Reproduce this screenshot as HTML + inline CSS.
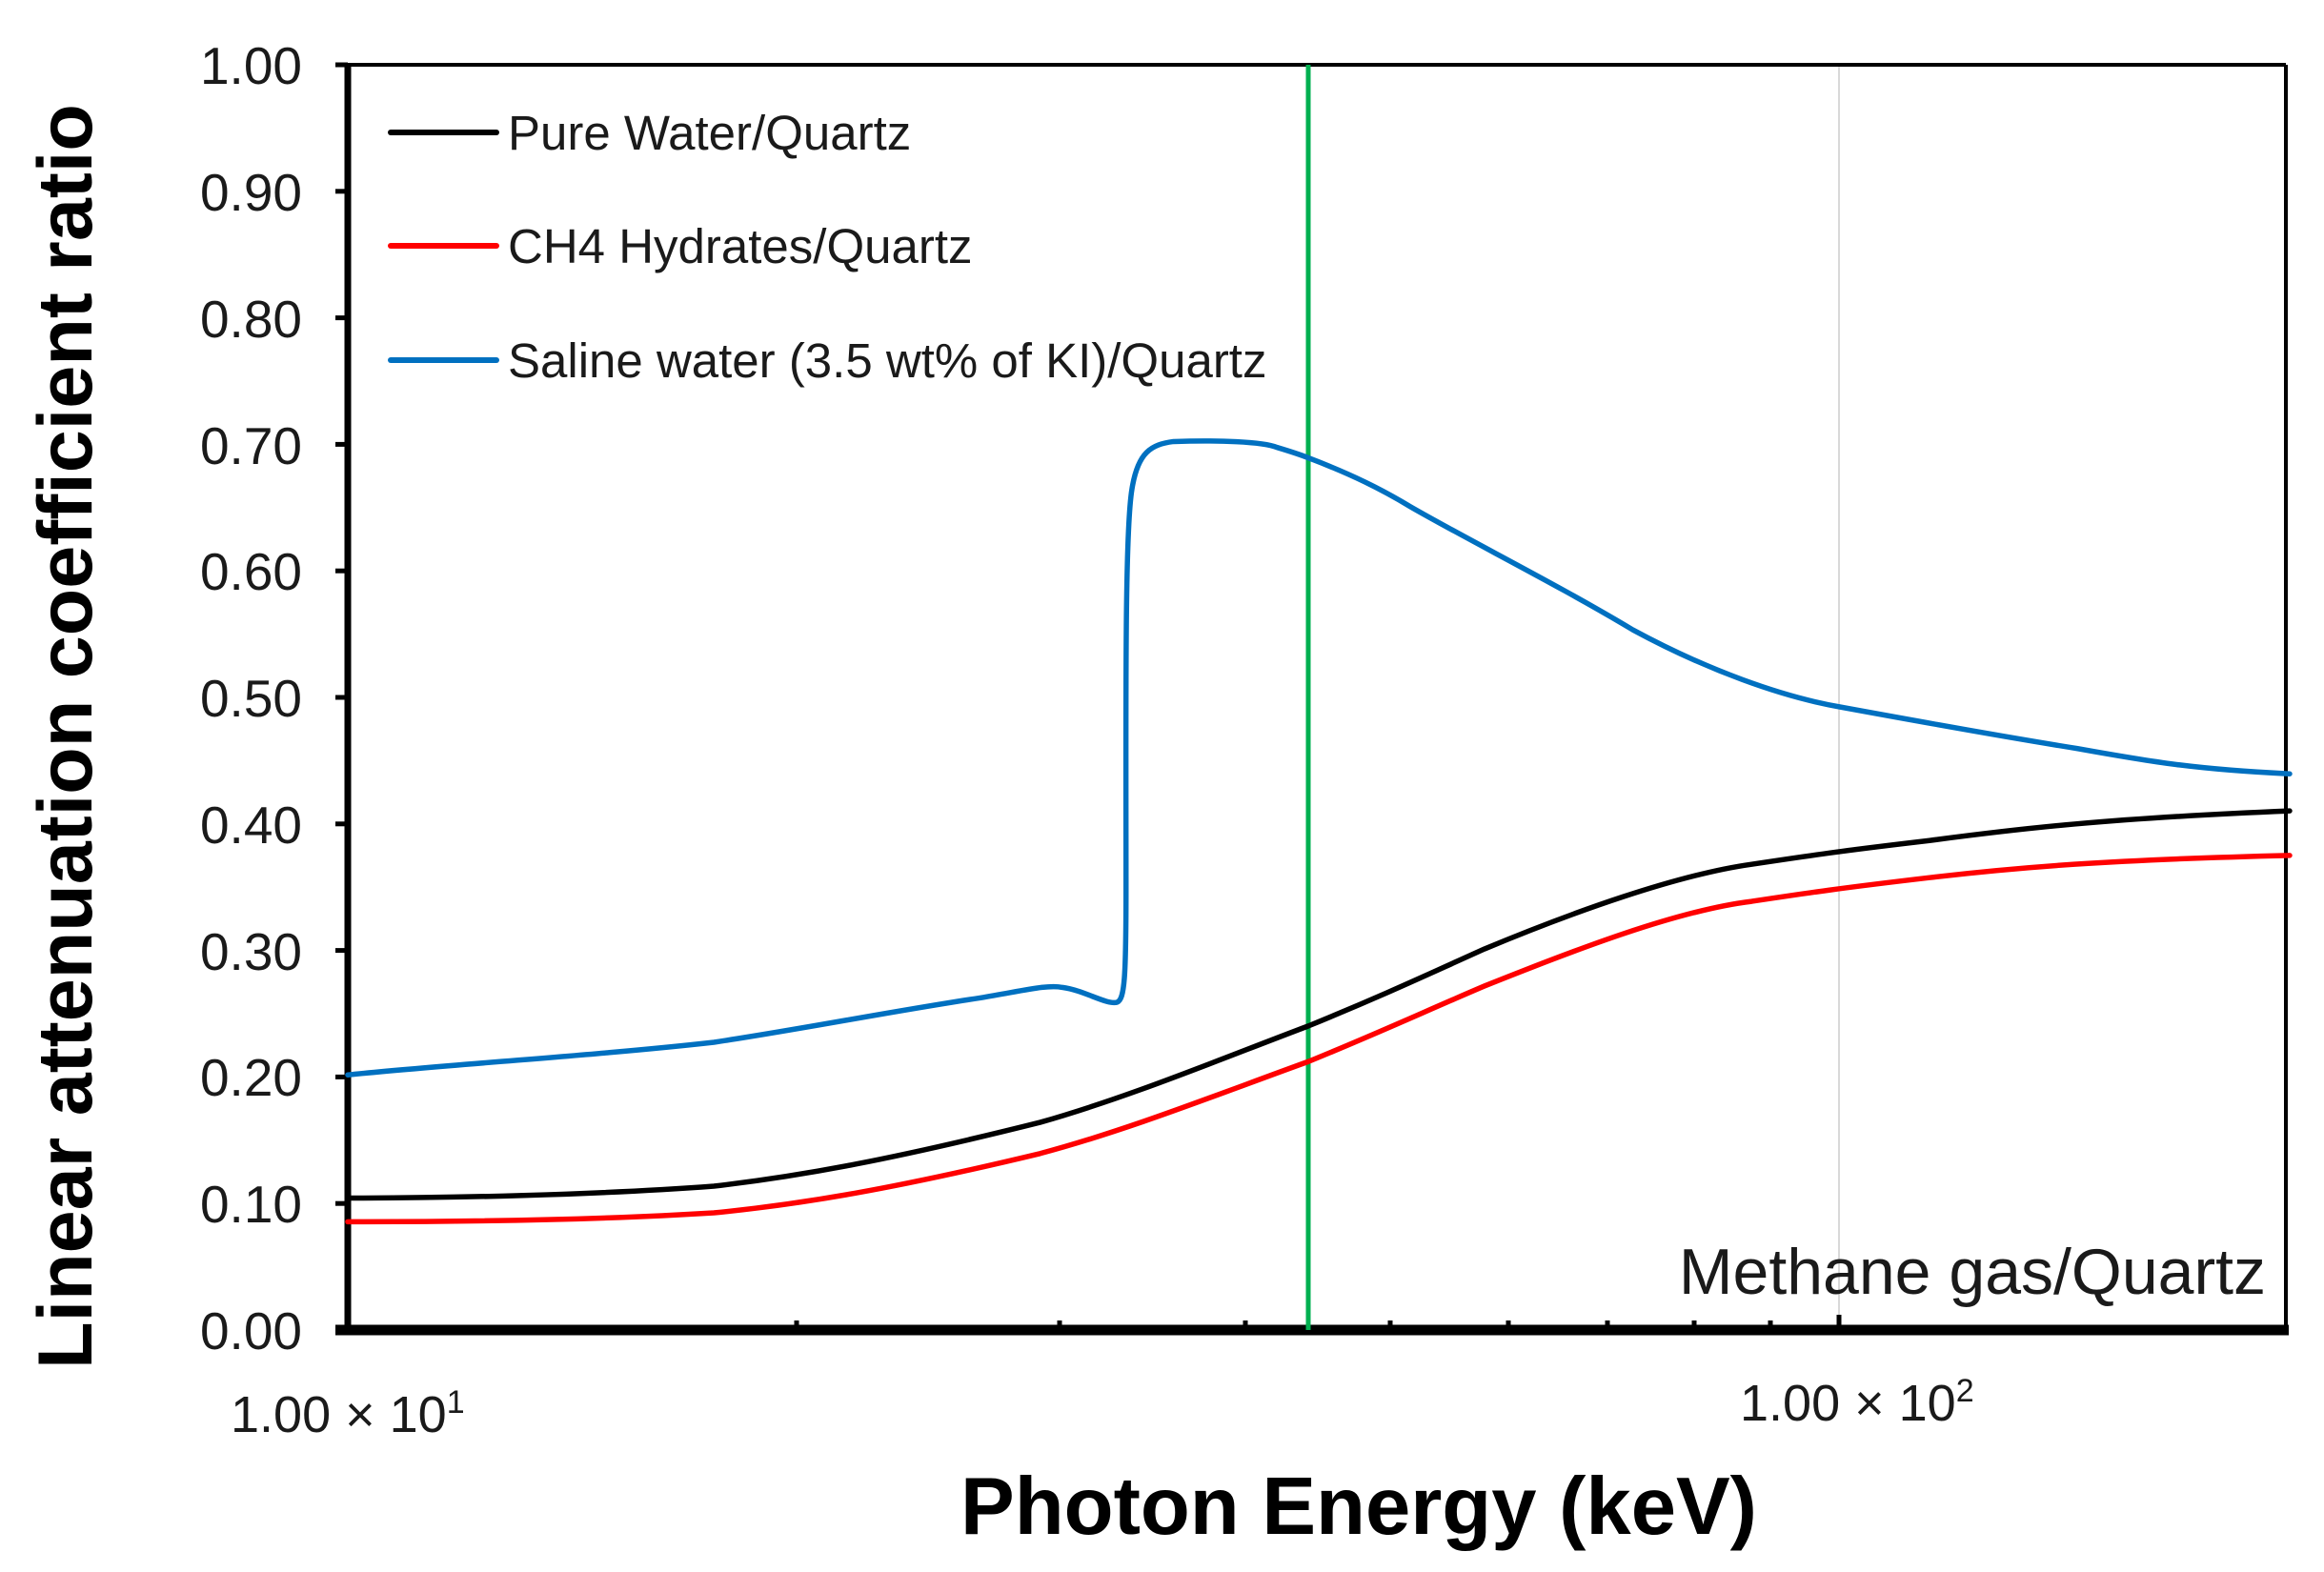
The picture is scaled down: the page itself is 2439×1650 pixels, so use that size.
<!DOCTYPE html>
<html><head><meta charset="utf-8"><style>
html,body{margin:0;padding:0;background:#fff;}
svg{display:block;font-family:"Liberation Sans",Arial,sans-serif;}
</style></head><body>
<svg width="2439" height="1650" viewBox="0 0 2439 1650" xmlns="http://www.w3.org/2000/svg">
<rect width="2439" height="1650" fill="#fff"/>
<line x1="1930" y1="68" x2="1930" y2="1396" stroke="#d9d9d9" stroke-width="2"/>
<line x1="365" y1="68" x2="2399" y2="68" stroke="#000" stroke-width="4"/>
<line x1="2399" y1="68" x2="2399" y2="1396" stroke="#000" stroke-width="4"/>
<line x1="365" y1="66" x2="365" y2="1400" stroke="#000" stroke-width="7"/>
<line x1="352" y1="1396" x2="2402" y2="1396" stroke="#000" stroke-width="11"/>
<g stroke="#000" stroke-width="5">
<line x1="352" y1="68" x2="365" y2="68"/><line x1="352" y1="200.8" x2="365" y2="200.8"/>
<line x1="352" y1="333.6" x2="365" y2="333.6"/><line x1="352" y1="466.4" x2="365" y2="466.4"/>
<line x1="352" y1="599.2" x2="365" y2="599.2"/><line x1="352" y1="732" x2="365" y2="732"/>
<line x1="352" y1="864.8" x2="365" y2="864.8"/><line x1="352" y1="997.6" x2="365" y2="997.6"/>
<line x1="352" y1="1130.4" x2="365" y2="1130.4"/><line x1="352" y1="1263.2" x2="365" y2="1263.2"/>
</g>
<g stroke="#000" stroke-width="5">
<line x1="836" y1="1386" x2="836" y2="1396"/><line x1="1112" y1="1386" x2="1112" y2="1396"/>
<line x1="1307" y1="1386" x2="1307" y2="1396"/><line x1="1459" y1="1386" x2="1459" y2="1396"/>
<line x1="1583" y1="1386" x2="1583" y2="1396"/><line x1="1687" y1="1386" x2="1687" y2="1396"/>
<line x1="1778" y1="1386" x2="1778" y2="1396"/><line x1="1858" y1="1386" x2="1858" y2="1396"/>
<line x1="1930" y1="1380" x2="1930" y2="1396"/>
</g>
<g font-size="55" fill="#1a1a1a" text-anchor="end">
<text x="317" y="88">1.00</text><text x="317" y="221">0.90</text><text x="317" y="354">0.80</text>
<text x="317" y="487">0.70</text><text x="317" y="619">0.60</text><text x="317" y="752">0.50</text>
<text x="317" y="885">0.40</text><text x="317" y="1018">0.30</text><text x="317" y="1150">0.20</text>
<text x="317" y="1283">0.10</text><text x="317" y="1416">0.00</text>
</g>
<text x="242" y="1503" font-size="54" fill="#1a1a1a">1.00 × 10<tspan font-size="34" dy="-20">1</tspan></text>
<text x="1826" y="1491" font-size="54" fill="#1a1a1a">1.00 × 10<tspan font-size="34" dy="-20">2</tspan></text>
<text x="1426" y="1610" font-size="85" font-weight="bold" text-anchor="middle" fill="#000">Photon  Energy (keV)</text>
<text transform="translate(96,773) rotate(-90)" font-size="81" font-weight="bold" text-anchor="middle" fill="#000">Linear  attenuation  coefficient  ratio</text>
<line x1="1373" y1="68" x2="1373" y2="1396" stroke="#00b050" stroke-width="5"/>
<g transform="translate(365,68) scale(1.5557,1.5569) translate(-233,-44)" fill="none" stroke-linejoin="round" stroke-linecap="round">
<path vector-effect="non-scaling-stroke" stroke="#0070c0" stroke-width="5.5" d="M233,725 C300,718 400,712 480,703 C540,694 600,682 660,673 C690,668 705,664 715,666 C730,668 745,678 752,676 C757,674 758,660 758,600 C758,480 757,360 762,330 C766,305 775,300 790,298 C820,297 850,298 860,302 C870,305 876,307 881,309 C910,320 930,330 950,342 C990,365 1050,395 1100,425 C1150,452 1200,470 1240,477 C1300,488 1350,497 1400,505 C1450,514 1480,519 1543,522"/>
<path vector-effect="non-scaling-stroke" stroke="#000" stroke-width="5.5" d="M233,808 C300,808 400,806 480,800 C540,793 600,782 700,757 C760,740 820,715 881,692 C930,672 960,658 1000,640 C1060,615 1130,590 1180,583 C1220,577 1240,574 1300,567 C1360,559 1420,552 1543,547"/>
<path vector-effect="non-scaling-stroke" stroke="#ff0000" stroke-width="5.5" d="M233,824 C300,824 400,823 480,818 C540,812 600,802 700,778 C760,762 820,738 881,716 C930,696 960,682 1000,665 C1060,641 1130,614 1180,608 C1220,602 1240,599 1300,592 C1360,585 1420,580 1543,577"/>
</g>
<g stroke-width="6" stroke-linecap="round">
<line x1="410" y1="139" x2="521" y2="139" stroke="#000"/>
<line x1="410" y1="258" x2="521" y2="258" stroke="#ff0000"/>
<line x1="410" y1="378" x2="521" y2="378" stroke="#0070c0"/>
</g>
<g font-size="51" fill="#1a1a1a">
<text x="533" y="157">Pure Water/Quartz</text>
<text x="533" y="276">CH4 Hydrates/Quartz</text>
<text x="533" y="396">Saline water (3.5 wt% of KI)/Quartz</text>
</g>
<text x="2378" y="1358" font-size="68" fill="#1a1a1a" text-anchor="end">Methane gas/Quartz</text>
</svg>
</body></html>
